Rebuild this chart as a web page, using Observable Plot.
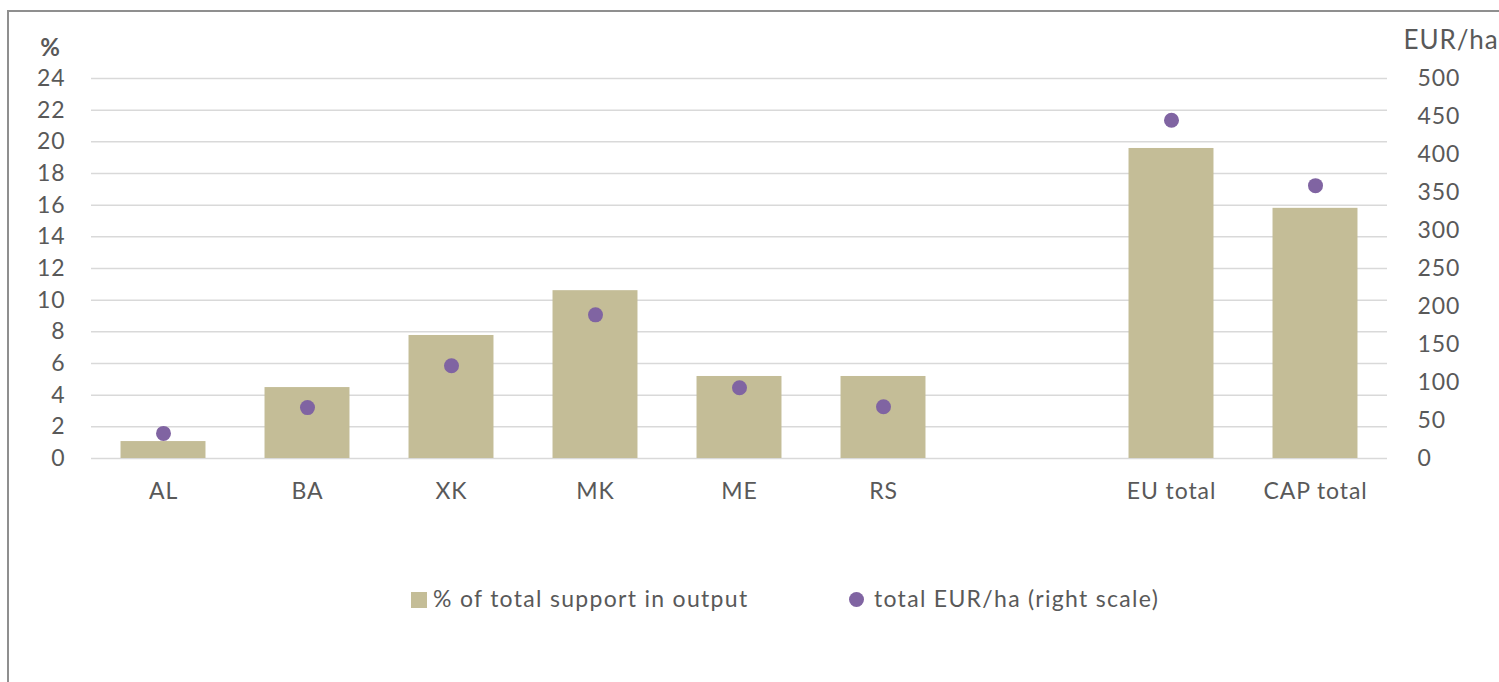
<!DOCTYPE html>
<html><head><meta charset="utf-8">
<script src="https://cdn.jsdelivr.net/npm/d3@7"></script>
<script src="https://cdn.jsdelivr.net/npm/@observablehq/plot@0.6"></script>
<style>
body{margin:0;background:#fff;font-family:Lato,"Open Sans",sans-serif;overflow:hidden;width:1499px;height:682px;position:relative}
#frame{position:absolute;left:7px;top:10px;width:1520px;height:700px;border:2px solid #8f8f8f;box-sizing:border-box}
#chart{position:absolute;left:0;top:0}
#chart svg text{letter-spacing:0.9px}
.leg{position:absolute;font-size:23px;letter-spacing:1.3px;color:#595959;white-space:nowrap}
</style></head><body>
<div id="frame"></div>
<div id="chart"></div>
<div class="leg" style="left:411px;top:584px"><span style="display:inline-block;width:16px;height:16px;background:#C4BD97;margin-right:6px;vertical-align:-1px"></span>% of total support in output</div>
<div class="leg" style="left:849px;top:584px"><span style="display:inline-block;width:15px;height:15px;border-radius:50%;background:#8064A2;margin-right:10px;vertical-align:0px"></span>total EUR/ha (right scale)</div>
<script>
const categories = ["AL","BA","XK","MK","ME","RS","","EU total","CAP total"];
const sharePct = [1.07, 4.48, 7.77, 10.6, 5.18, 5.18, null, 19.58, 15.8];
const eurPerHa = [33, 67, 122, 189, 93, 68, null, 445, 359];
const leftTicks = [0,2,4,6,8,10,12,14,16,18,20,22,24];
const rightTicks = [0,50,100,150,200,250,300,350,400,450,500];
const leftMax = 24, rightMax = 500;

const rows = categories.map((c,i)=>({cat:c, pct:sharePct[i], eur:eurPerHa[i]})).filter(d=>d.pct!=null);
const toLeft = v => v / rightMax * leftMax;

const plot = Plot.plot({
  width: 1499, height: 530,
  marginLeft: 91, marginRight: 112, marginTop: 78, marginBottom: 72,
  style: {fontFamily: "Lato, 'Open Sans', sans-serif", fontSize: "23px", color: "#595959", background: "transparent"},
  x: {domain: categories, paddingInner: 0.41, paddingOuter: 0.205, round: false, label: null},
  y: {domain: [0, leftMax], label: null},
  marks: [
    Plot.ruleY(leftTicks, {stroke: "#d9d9d9", strokeWidth: 1.5}),
    Plot.barY(rows, {x: "cat", y: "pct", fill: "#C4BD97"}),
    Plot.dot(rows, {x: "cat", y: d => toLeft(d.eur), r: 7.5, fill: "#8064A2"}),
    Plot.axisY(leftTicks, {anchor: "left", tickSize: 0, tickPadding: 26, label: null, fill: "#595959"}),
    Plot.axisY(rightTicks.map(toLeft), {anchor: "right", tickSize: 0, tickPadding: 30, label: null, fill: "#595959", textAnchor: "start", tickFormat: v => String(Math.round(v / leftMax * rightMax))}),
    Plot.axisX({tickSize: 0, tickPadding: 24, label: null, fill: "#595959", tickFormat: d => d}),
    Plot.text(["%"], {frameAnchor: "top-left", dx: -41, dy: -40, fontWeight: "bold", fontSize: 24, fill: "#595959", textAnchor: "middle"}),
    Plot.text(["EUR/ha"], {frameAnchor: "top-right", dx: 16, dy: -48, fontSize: 26, fill: "#595959", textAnchor: "start"})
  ]
});
document.getElementById("chart").appendChild(plot);
</script>
</body></html>
